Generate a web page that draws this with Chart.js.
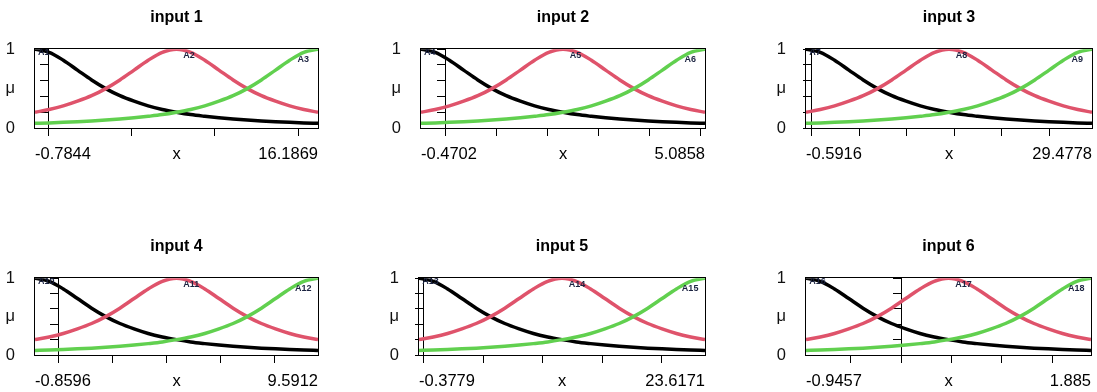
<!DOCTYPE html>
<html>
<head>
<meta charset="utf-8">
<script src="https://cdn.jsdelivr.net/npm/chart.js@4.4.1/dist/chart.umd.min.js"></script>
<style>
  html, body { margin: 0; padding: 0; background: #fff; overflow: hidden; width: 1097px; height: 392px; }
  .panel { position: absolute; }
</style>
</head>
<body>
<div id="wrap"></div>
<script>
// one panel per input variable
const titles = ["input 1", "input 2", "input 3", "input 4", "input 5", "input 6"];
const xMin = [-0.7844, -0.4702, -0.5916, -0.8596, -0.3779, -0.9457];
const xMax = [16.1869, 5.0858, 29.4778, 9.5912, 23.6171, 1.885];
const minLabels = ["-0.7844", "-0.4702", "-0.5916", "-0.8596", "-0.3779", "-0.9457"];
const maxLabels = ["16.1869", "5.0858", "29.4778", "9.5912", "23.6171", "1.885"];
const xTicks = [
  [0, 5, 10, 15],
  [0, 1, 2, 3, 4, 5],
  [0, 5, 10, 15, 20, 25],
  [0, 2, 4, 6, 8],
  [0, 5, 10, 15, 20],
  [-0.5, 0, 0.5, 1, 1.5]
];
const setNames = [
  ["A1", "A2", "A3"], ["A4", "A5", "A6"], ["A7", "A8", "A9"],
  ["A10", "A11", "A12"], ["A13", "A14", "A15"], ["A16", "A17", "A18"]
];
const yTickText = ["0", "\u03bc", "1"];

// membership degree read across each panel (as share of the x range), same shape in all six
const xFrac = [0, 0.05, 0.1, 0.15, 0.2, 0.25, 0.3, 0.35, 0.4, 0.45, 0.5,
               0.55, 0.6, 0.65, 0.7, 0.75, 0.8, 0.85, 0.9, 0.95, 1];
const muLow  = [1, 0.96, 0.86, 0.735, 0.61, 0.5, 0.41, 0.34, 0.28, 0.235, 0.2,
                0.17, 0.148, 0.129, 0.113, 0.1, 0.089, 0.08, 0.072, 0.065, 0.059];
const muMid  = [0.2, 0.235, 0.28, 0.34, 0.41, 0.5, 0.61, 0.735, 0.86, 0.96, 1,
                0.96, 0.86, 0.735, 0.61, 0.5, 0.41, 0.34, 0.28, 0.235, 0.2];
const muHigh = [0.059, 0.065, 0.072, 0.08, 0.089, 0.1, 0.113, 0.129, 0.148, 0.17, 0.2,
                0.235, 0.28, 0.34, 0.41, 0.5, 0.61, 0.735, 0.86, 0.96, 1];

// where each panel's plot box sits on the page
const boxLeft = [35, 421, 806, 35, 419, 806];
const boxWidth = [283, 284, 286, 283, 286, 285];
const rowTop = [0, 0, 0, 229, 229, 229];
const rowHeight = [170, 170, 170, 168, 168, 168];
const side = 35;

// label spots for set names: [share of range, degree, align]
const nameSpots = [[0.011, 0.96, "left"], [0.524, 0.918, "left"], [0.948, 0.865, "center"]];

Chart.defaults.font.family = 'Arial, "Liberation Sans", sans-serif';
Chart.defaults.color = "#000";

const framePlugin = {
  id: "frame",
  afterDatasetsDraw(chart, args, opts) {
    const { ctx, chartArea: a, scales } = chart;
    ctx.save();
    ctx.font = "bold 9px Arial, 'Liberation Sans', sans-serif";
    ctx.fillStyle = "#1b2340";
    ctx.textBaseline = "middle";
    opts.names.forEach((t, i) => {
      const s = nameSpots[i];
      ctx.textAlign = s[2];
      ctx.fillText(t, scales.xn.getPixelForValue(s[0]), scales.y.getPixelForValue(s[1]));
    });
    ctx.strokeStyle = "#000";
    ctx.lineWidth = 1;
    ctx.strokeRect(Math.round(a.left) - 0.5, Math.round(a.top) - 0.5,
                   Math.round(a.right) - Math.round(a.left) + 1, Math.round(a.bottom) - Math.round(a.top) + 1);
    ctx.restore();
  }
};

function pts(arr) {
  return xFrac.map((x, i) => ({ x: x, y: arr[i] }));
}

const wrap = document.getElementById("wrap");

titles.forEach((title, p) => {
  const div = document.createElement("div");
  div.className = "panel";
  const w = boxWidth[p] + 2 * side;
  const h = rowHeight[p];
  div.style.left = (boxLeft[p] - side) + "px";
  div.style.top = rowTop[p] + "px";
  div.style.width = w + "px";
  div.style.height = h + "px";
  const canvas = document.createElement("canvas");
  canvas.width = w;
  canvas.height = h;
  canvas.style.width = w + "px";
  canvas.style.height = h + "px";
  div.appendChild(canvas);
  wrap.appendChild(div);

  const lo = xMin[p], hi = xMax[p];
  const endText = [minLabels[p], "x", maxLabels[p]];

  new Chart(canvas.getContext("2d"), {
    type: "line",
    data: {
      datasets: [
        { data: pts(muLow), borderColor: "#000000", order: 3 },
        { data: pts(muMid), borderColor: "#DF536B", order: 2 },
        { data: pts(muHigh), borderColor: "#61D04F", order: 1 }
      ].map(d => Object.assign(d, {
        xAxisID: "xn", yAxisID: "y", borderWidth: 3.5, pointRadius: 0,
        cubicInterpolationMode: "monotone", fill: false
      }))
    },
    options: {
      responsive: false,
      animation: false,
      events: [],
      layout: { padding: 0 },
      plugins: {
        legend: { display: false },
        tooltip: { enabled: false },
        title: {
          display: true,
          text: title,
          color: "#000",
          font: { size: 16, weight: "bold" },
          padding: { top: 8, bottom: 22 }
        },
        frame: { names: setNames[p] }
      },
      scales: {
        xn: { type: "linear", min: 0, max: 1, display: false },
        x: {
          type: "linear", position: "bottom", min: lo, max: hi, weight: 0,
          afterBuildTicks: s => { s.ticks = xTicks[p].map(v => ({ value: v })); },
          afterFit: s => { s.height = 8; },
          ticks: { display: false },
          grid: { display: true, drawOnChartArea: false, drawTicks: true, tickLength: 8, color: "#000", lineWidth: 1 },
          border: { display: false }
        },
        xl: {
          type: "linear", position: "bottom", min: lo, max: hi, weight: 1,
          afterBuildTicks: s => { s.ticks = [lo, (lo + hi) / 2, hi].map(v => ({ value: v })); },
          afterFit: s => { s.height = 34; },
          ticks: {
            align: "inner", autoSkip: false, maxRotation: 0, padding: 9,
            font: { size: 16.5 }, color: "#000",
            callback: (v, i) => endText[i]
          },
          grid: { display: false, drawTicks: false },
          border: { display: false }
        },
        y: {
          type: "linear", position: { x: 0 }, min: 0, max: 1,
          ticks: { display: false, stepSize: 0.2 },
          grid: { display: true, drawOnChartArea: false, drawTicks: true, tickLength: 8, color: "#000", lineWidth: 1 },
          border: { display: true, color: "#000", width: 1 }
        },
        yl: {
          type: "linear", position: "left", min: 0, max: 1,
          afterBuildTicks: s => { s.ticks = [0, 0.5, 1].map(v => ({ value: v })); },
          afterFit: s => { s.width = side; },
          ticks: {
            autoSkip: false, padding: 20, font: { size: 16.5 }, color: "#111",
            callback: (v, i) => yTickText[i]
          },
          grid: { display: false, drawTicks: false },
          border: { display: false }
        },
        yr: {
          type: "linear", position: "right", min: 0, max: 1,
          afterFit: s => { s.width = side; },
          ticks: { display: false },
          grid: { display: false, drawTicks: false },
          border: { display: false }
        }
      }
    },
    plugins: [framePlugin]
  });
});
</script>
</body>
</html>
